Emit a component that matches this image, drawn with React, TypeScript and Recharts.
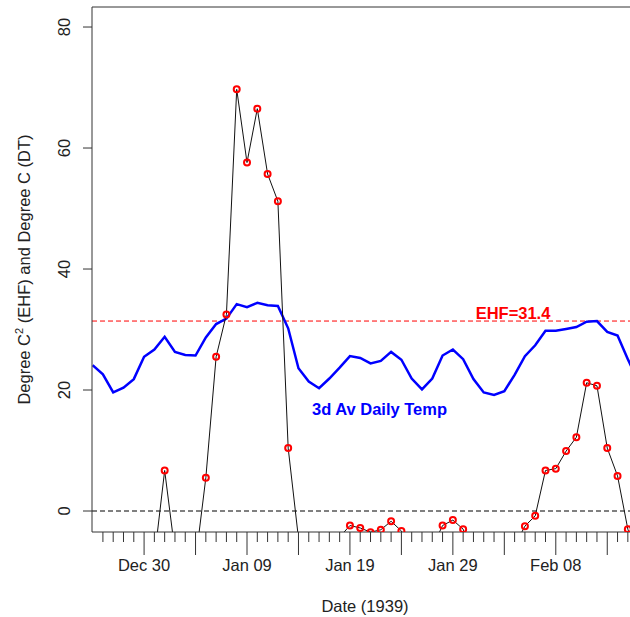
import React from 'react';
import { LineChart, Line, XAxis, YAxis, ReferenceLine } from 'recharts';

// Dates (Dec 25 1938 .. Feb 16 1939)
const dates = [
  'Dec 25', 'Dec 26', 'Dec 27', 'Dec 28', 'Dec 29', 'Dec 30', 'Dec 31',
  'Jan 01', 'Jan 02', 'Jan 03', 'Jan 04', 'Jan 05', 'Jan 06', 'Jan 07', 'Jan 08', 'Jan 09', 'Jan 10',
  'Jan 11', 'Jan 12', 'Jan 13', 'Jan 14', 'Jan 15', 'Jan 16', 'Jan 17', 'Jan 18', 'Jan 19', 'Jan 20',
  'Jan 21', 'Jan 22', 'Jan 23', 'Jan 24', 'Jan 25', 'Jan 26', 'Jan 27', 'Jan 28', 'Jan 29', 'Jan 30', 'Jan 31',
  'Feb 01', 'Feb 02', 'Feb 03', 'Feb 04', 'Feb 05', 'Feb 06', 'Feb 07', 'Feb 08', 'Feb 09', 'Feb 10',
  'Feb 11', 'Feb 12', 'Feb 13', 'Feb 14', 'Feb 15', 'Feb 16',
];

// 3-day average daily temperature (deg C)
const tempAvg = [
  24.1, 22.6, 19.6, 20.4, 21.8, 25.5, 26.7,
  28.8, 26.3, 25.8, 25.7, 28.7, 30.9, 31.8, 34.2, 33.7, 34.4,
  34.0, 33.9, 30.2, 23.6, 21.4, 20.3, 21.9, 23.7, 25.6, 25.3,
  24.4, 24.8, 26.3, 25.0, 21.9, 20.1, 21.9, 25.7, 26.7, 25.1, 21.8,
  19.6, 19.2, 19.8, 22.5, 25.6, 27.4, 29.8, 29.8, 30.1, 30.4,
  31.3, 31.4, 29.6, 29.0, 25.1, 21.4,
];

// Excess Heat Factor (deg C^2)
const ehf = [
  -10, -12, -14, -12, -9, -8, -7.8,
  6.7, -6.7, -10, -8.3, 5.5, 25.5, 32.5, 69.7, 57.6, 66.5,
  55.7, 51.2, 10.4, -4.5, -12, -14, -10, -4.3, -2.4, -2.8,
  -3.5, -3.1, -1.7, -3.3, -7, -10, -6.0, -2.4, -1.5, -3.0, -8,
  -12, -13, -10, -5.8, -2.5, -0.8, 6.7, 7.0, 9.9, 12.2,
  21.2, 20.7, 10.4, 5.8, -3.0, -8,
];

const ehfThreshold = 31.4;
const yTicks = [0, 20, 40, 60, 80];
const labelledDates = ['Dec 30', 'Jan 09', 'Jan 19', 'Jan 29', 'Feb 08'];
const majorDates = ['Dec 30', 'Jan 04', 'Jan 09', 'Jan 14', 'Jan 19', 'Jan 24', 'Jan 29', 'Feb 03', 'Feb 08', 'Feb 13'];

const data = dates.map((date, i) => ({ i, date, temp: tempAvg[i], ehf: ehf[i] }));
const xTicks = data.slice(1).map((d) => d.i);

const FONT = "'Liberation Sans', Arial, sans-serif";
const AXIS = '#333';
const TEXT = '#222';

function XTick(props: any) {
  const { x, y, payload } = props;
  const date = dates[payload.value];
  const major = majorDates.includes(date);
  const show = labelledDates.includes(date);
  return (
    <g>
      <line x1={x} x2={x} y1={y} y2={y + (major ? 23 : 10)} stroke={AXIS} strokeWidth={1} />
      {show && (
        <text x={x} y={y + 39} textAnchor="middle" fontSize={16.5} fontFamily={FONT} fill={TEXT}>
          {date}
        </text>
      )}
    </g>
  );
}

function YTick(props: any) {
  const { x, y, payload } = props;
  const tx = x - 22;
  return (
    <g>
      <line x1={x - 9} x2={x} y1={y} y2={y} stroke={AXIS} strokeWidth={1} />
      <text x={tx} y={y} transform={`rotate(-90 ${tx} ${y})`} textAnchor="middle" fontSize={16.5} fontFamily={FONT} fill={TEXT}>
        {payload.value}
      </text>
    </g>
  );
}

function YTitle() {
  return (
    <text x={30} y={269.5} transform="rotate(-90 30 269.5)" textAnchor="middle" fontSize={16.5} fontFamily={FONT} fill={TEXT}>
      Degree C
      <tspan dy={-7} fontSize={11}>2</tspan>
      <tspan dy={7}>{' (EHF) and Degree C (DT)'}</tspan>
    </text>
  );
}

function XTitle() {
  return (
    <text x={365} y={611.5} textAnchor="middle" fontSize={16.5} fontFamily={FONT} fill={TEXT}>
      Date (1939)
    </text>
  );
}

function EhfLabel(props: any) {
  const vb = props.viewBox || { y: 321 };
  return (
    <text x={513} y={vb.y - 2} textAnchor="middle" fontSize={16.5} fontWeight="bold" fontFamily={FONT} fill="#FF0000">
      {`EHF=${ehfThreshold}`}
    </text>
  );
}

function TempLabel() {
  return (
    <text x={379.5} y={414.5} textAnchor="middle" fontSize={16.5} fontWeight="bold" fontFamily={FONT} fill="#0000FF">
      3d Av Daily Temp
    </text>
  );
}

export default function App() {
  const yDomain: [number, number] = [-3.47, 83.31];
  return (
    <div style={{ position: 'absolute', left: 0, top: 0, width: 630, height: 617, overflow: 'hidden', background: '#fff' }}>
      <LineChart width={640} height={617} data={data} margin={{ top: 7, right: 10, left: 32, bottom: 35 }}>
        <XAxis
          dataKey="i"
          type="number"
          domain={[-0.06, 52.21]}
          allowDataOverflow
          ticks={xTicks}
          interval={0}
          tick={<XTick />}
          tickLine={false}
          tickSize={0}
          tickMargin={0}
          axisLine={{ stroke: AXIS, strokeWidth: 1 }}
          height={50}
          label={<XTitle />}
        />
        <YAxis
          type="number"
          domain={yDomain}
          allowDataOverflow
          ticks={yTicks}
          interval={0}
          tick={<YTick />}
          tickLine={false}
          tickSize={0}
          tickMargin={0}
          axisLine={{ stroke: AXIS, strokeWidth: 1 }}
          width={60}
          label={<YTitle />}
        />
        <ReferenceLine y={yDomain[1]} stroke={AXIS} strokeWidth={1} ifOverflow="visible" />
        <ReferenceLine y={0} stroke="#000" strokeDasharray="5 3" strokeWidth={1} label={<TempLabel />} />
        <ReferenceLine y={ehfThreshold} stroke="#FF0000" strokeDasharray="5 3" strokeWidth={1} label={<EhfLabel />} />
        <Line
          dataKey="temp"
          stroke="#0000FF"
          strokeWidth={2.5}
          dot={false}
          activeDot={false}
          isAnimationActive={false}
          type="linear"
        />
        <Line
          dataKey="ehf"
          stroke="#111"
          strokeWidth={1}
          dot={{ r: 3, stroke: '#FF0000', strokeWidth: 2, fill: 'none' }}
          activeDot={false}
          isAnimationActive={false}
          type="linear"
        />
      </LineChart>
    </div>
  );
}
